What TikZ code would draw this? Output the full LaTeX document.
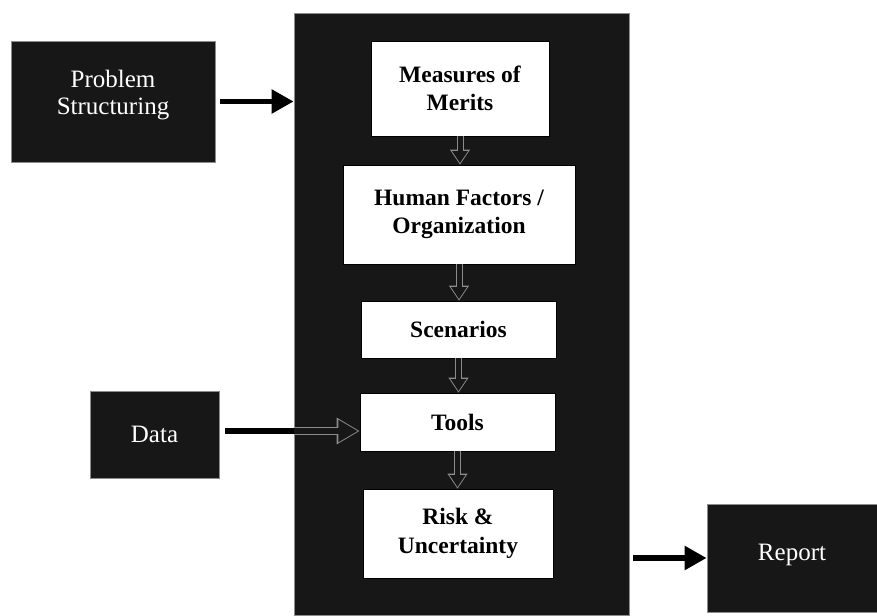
\documentclass[tikz,border=0pt]{standalone}
\usepackage{fontspec}
\setmainfont{Liberation Serif}
\usetikzlibrary{arrows.meta}

\definecolor{panel}{gray}{0.09}
\definecolor{edge}{gray}{0.55}

\tikzset{
  darkbox/.style={draw=edge, line width=0.8pt, fill=panel, inner sep=0pt},
  darktext/.style={text=white, font=\fontsize{25}{27}\selectfont, align=center},
  stagebox/.style={draw=black, line width=0.6pt, fill=white, inner sep=0pt,
    font=\bfseries\fontsize{23.5}{28.5}\selectfont, align=center},
  flow/.style={line width=5.5pt, -{Triangle[length=22pt, width=23pt]}},
  % outlined arrow: a grey arrow with a panel-coloured one laid inside it
  hollow/.style={draw=edge, line width=7pt, -{Triangle[length=15pt, width=19pt]},
    postaction={draw=panel, line width=5pt, -{Triangle[length=12pt, width=15pt]},
      shorten >=1.6pt}},
  bighollow/.style={draw=edge, line width=7.5pt, -{Triangle[length=23pt, width=25pt]},
    postaction={draw=panel, line width=5.5pt, -{Triangle[length=19.5pt, width=21pt]},
      shorten >=1.8pt}},
}

\begin{document}
\begin{tikzpicture}[x=1pt, y=-1pt]
  \useasboundingbox (0,0) rectangle (877,615);

  % central process panel
  \node[darkbox, minimum width=335pt, minimum height=602pt] (big) at (461.5,314) {};
  % point where the data line enters the panel
  \coordinate (dataIn) at (big.west |- 0,431);

  % stages inside the panel
  \node[stagebox, minimum width=178pt, minimum height=95pt] (mom) at (460,88.5) {Measures of\\Merits};
  \node[stagebox, minimum width=232pt, minimum height=99pt] (hf) at (459,214.5) {Human Factors /\\Organization};
  \node[stagebox, minimum width=195pt, minimum height=57pt] (sc) at (458.5,329.5) {Scenarios};
  \node[stagebox, minimum width=195pt, minimum height=58pt] (tools) at (457.5,422) {Tools};
  \node[stagebox, minimum width=190pt, minimum height=89pt] (risk) at (458,533.5) {Risk \&\\Uncertainty};

  % inputs and output
  \node[darkbox, minimum width=204pt, minimum height=121pt] (ps) at (113,101.5) {};
  \node[darktext] at ([yshift=6pt]ps.center) {Problem\\Structuring};
  \node[darkbox, minimum width=129pt, minimum height=87pt] (data) at (154.5,434.5) {};
  \node[darktext] at (data.center) {Data};
  \node[darkbox, minimum width=170pt, minimum height=108pt] (rep) at (792,558) {};
  \node[darktext] at ([yshift=3pt]rep.center) {Report};

  % flow between stages
  \draw[hollow] (mom.south) -- (mom.south |- hf.north);
  \draw[hollow] (hf.south) -- (hf.south |- sc.north);
  \draw[hollow] (sc.south) -- (sc.south |- tools.north);
  \draw[hollow] (tools.south) -- (tools.south |- risk.north);

  % connectors to and from the panel
  \draw[flow, shorten <=5pt] (ps.east) -- (ps.east -| big.west);
  \draw[line width=5.5pt, shorten <=6pt] (data.east |- dataIn) -- (dataIn);
  \draw[bighollow] (dataIn) -- (tools.west |- dataIn);
  \draw[flow, shorten <=4pt] (big.east |- rep.west) -- (rep.west);
\end{tikzpicture}
\end{document}
